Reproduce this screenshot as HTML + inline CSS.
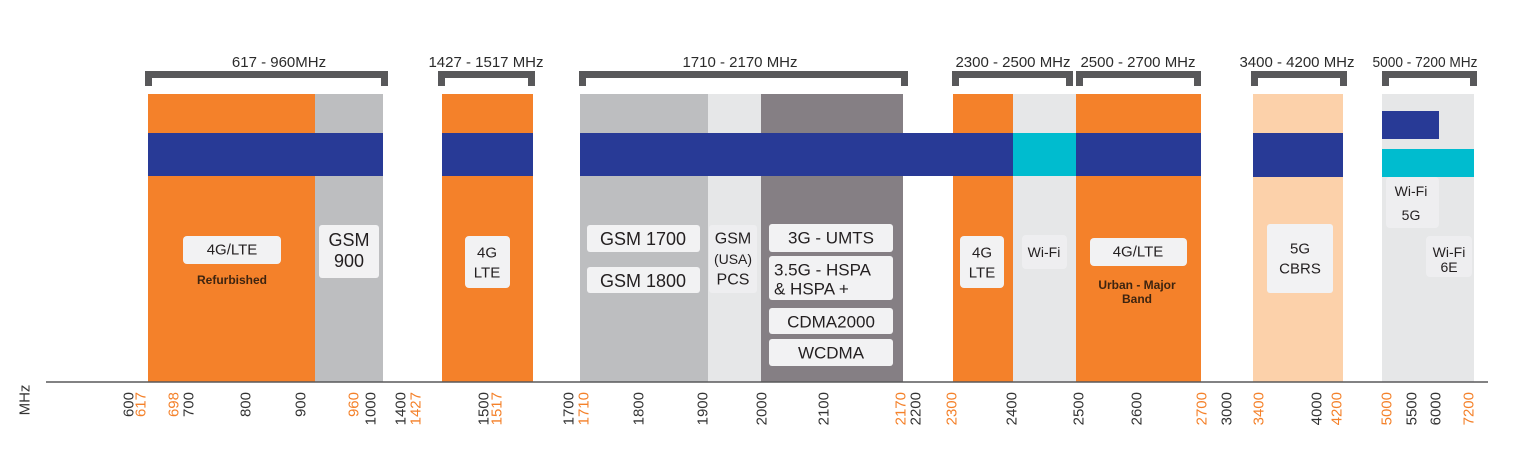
<!DOCTYPE html>
<html><head><meta charset="utf-8"><style>
html,body{margin:0;padding:0;background:#fff;}
svg{display:block;}
text{font-family:"Liberation Sans",sans-serif;}
</style></head><body>
<svg width="1536" height="466" viewBox="0 0 1536 466" xmlns="http://www.w3.org/2000/svg">
<!-- blocks -->
<g>
<rect x="148" y="94" width="167" height="288" fill="#f4812a"/>
<rect x="315" y="94" width="68" height="288" fill="#bdbec0"/>
<rect x="442" y="94" width="91" height="288" fill="#f4812a"/>
<rect x="580" y="94" width="128" height="288" fill="#bdbec0"/>
<rect x="708" y="94" width="53" height="288" fill="#e6e7e8"/>
<rect x="761" y="94" width="142" height="288" fill="#857f84"/>
<rect x="953" y="94" width="60" height="288" fill="#f4812a"/>
<rect x="1013" y="94" width="63" height="288" fill="#e6e7e8"/>
<rect x="1076" y="94" width="125" height="288" fill="#f4812a"/>
<rect x="1253" y="94" width="90" height="288" fill="#fcd1aa"/>
<rect x="1382" y="94" width="92" height="288" fill="#e6e7e8"/>
</g>
<!-- bands -->
<g>
<rect x="148" y="133" width="235" height="43" fill="#283a96"/>
<rect x="442" y="133" width="91" height="43" fill="#283a96"/>
<rect x="580" y="133" width="433" height="43" fill="#283a96"/>
<rect x="1013" y="133" width="63" height="43" fill="#00bccf"/>
<rect x="1076" y="133" width="125" height="43" fill="#283a96"/>
<rect x="1253" y="133" width="90" height="44" fill="#283a96"/>
<rect x="1382" y="111" width="57" height="28" fill="#283a96"/>
<rect x="1382" y="149" width="92" height="28" fill="#00bccf"/>
</g>
<!-- brackets -->
<g fill="#58585a">
<path d="M145 71H388V86H381V78H152V86H145Z"/>
<path d="M438 71H535V86H528V78H445V86H438Z"/>
<path d="M579 71H908V86H901V78H586V86H579Z"/>
<path d="M952 71H1073V86H1066V78H959V86H952Z"/>
<path d="M1076 71H1201V86H1194V78H1083V86H1076Z"/>
<path d="M1251 71H1347V86H1340V78H1258V86H1251Z"/>
<path d="M1382 71H1477V86H1470V78H1389V86H1382Z"/>
</g>
<g font-size="15" fill="#2b2b2b" text-anchor="middle">
<text x="279" y="67">617 - 960MHz</text>
<text x="486" y="67">1427 - 1517 MHz</text>
<text x="740" y="67">1710 - 2170 MHz</text>
<text x="1013" y="67">2300 - 2500 MHz</text>
<text x="1138" y="67">2500 - 2700 MHz</text>
<text x="1297" y="67">3400 - 4200 MHz</text>
<text x="1425" y="67" textLength="105" lengthAdjust="spacingAndGlyphs">5000 - 7200 MHz</text>
</g>
<!-- label boxes -->
<g fill="#f2f2f3">
<rect x="183" y="236" width="98" height="28" rx="4"/>
<rect x="319" y="225" width="60" height="53" rx="3"/>
<rect x="465" y="236" width="45" height="52" rx="4"/>
<rect x="587" y="225" width="113" height="27" rx="3"/>
<rect x="587" y="267" width="113" height="26" rx="3"/>
<rect x="709" y="225" width="48" height="68" rx="3" fill="#eeeef0"/>
<rect x="769" y="224" width="124" height="28" rx="3"/>
<rect x="769" y="256" width="124" height="44" rx="3"/>
<rect x="769" y="308" width="124" height="26" rx="3"/>
<rect x="769" y="339" width="124" height="27" rx="3"/>
<rect x="960" y="236" width="44" height="52" rx="4"/>
<rect x="1022" y="235" width="45" height="34" rx="4" fill="#eeeef0"/>
<rect x="1090" y="238" width="97" height="28" rx="4"/>
<rect x="1267" y="224" width="66" height="69" rx="3"/>
<rect x="1386" y="177" width="53" height="51" rx="4" fill="#eeeef0"/>
<rect x="1426" y="236" width="46" height="41" rx="4" fill="#eeeef0"/>
</g>
<g fill="#231f20" text-anchor="middle" dominant-baseline="central">
<text x="232" y="250" font-size="15">4G/LTE</text>
<text x="232" y="280" font-size="12" font-weight="bold" fill="#3d2410">Refurbished</text>
<text x="349" y="240" font-size="18">GSM</text>
<text x="349" y="261" font-size="18">900</text>
<text x="487" y="253" font-size="15">4G</text>
<text x="487" y="273" font-size="15">LTE</text>
<text x="643" y="239" font-size="18">GSM 1700</text>
<text x="643" y="281" font-size="18">GSM 1800</text>
<text x="733" y="239" font-size="16">GSM</text>
<text x="733" y="259" font-size="14">(USA)</text>
<text x="733" y="280" font-size="16">PCS</text>
<text x="831" y="238" font-size="17">3G - UMTS</text>
<text x="774" y="270" font-size="17" text-anchor="start">3.5G - HSPA</text>
<text x="774" y="289" font-size="17" text-anchor="start">&amp; HSPA +</text>
<text x="831" y="322" font-size="17">CDMA2000</text>
<text x="831" y="353" font-size="17">WCDMA</text>
<text x="982" y="253" font-size="15">4G</text>
<text x="982" y="273" font-size="15">LTE</text>
<text x="1044" y="252" font-size="14">Wi-Fi</text>
<text x="1138" y="252" font-size="15">4G/LTE</text>
<text x="1137" y="285" font-size="12" font-weight="bold" fill="#3d2410">Urban - Major</text>
<text x="1137" y="299" font-size="12" font-weight="bold" fill="#3d2410">Band</text>
<text x="1300" y="249" font-size="15">5G</text>
<text x="1300" y="269" font-size="15">CBRS</text>
<text x="1411" y="191" font-size="14">Wi-Fi</text>
<text x="1411" y="215" font-size="14">5G</text>
<text x="1449" y="252" font-size="14">Wi-Fi</text>
<text x="1449" y="267" font-size="14">6E</text>
</g>
<!-- axis -->
<line x1="46" y1="382" x2="1488" y2="382" stroke="#58585a" stroke-width="1.5"/>
<g font-size="15" text-anchor="end" dominant-baseline="central">
<text transform="translate(25,400) rotate(-90)" text-anchor="middle" fill="#333">MHz</text>
<text transform="translate(129,392) rotate(-90)" fill="#333">600</text>
<text transform="translate(141,392) rotate(-90)" fill="#f4812a">617</text>
<text transform="translate(174,392) rotate(-90)" fill="#f4812a">698</text>
<text transform="translate(189,392) rotate(-90)" fill="#333">700</text>
<text transform="translate(246,392) rotate(-90)" fill="#333">800</text>
<text transform="translate(301,392) rotate(-90)" fill="#333">900</text>
<text transform="translate(354,392) rotate(-90)" fill="#f4812a">960</text>
<text transform="translate(371,392) rotate(-90)" fill="#333">1000</text>
<text transform="translate(401,392) rotate(-90)" fill="#333">1400</text>
<text transform="translate(416,392) rotate(-90)" fill="#f4812a">1427</text>
<text transform="translate(484,392) rotate(-90)" fill="#333">1500</text>
<text transform="translate(497,392) rotate(-90)" fill="#f4812a">1517</text>
<text transform="translate(569,392) rotate(-90)" fill="#333">1700</text>
<text transform="translate(584,392) rotate(-90)" fill="#f4812a">1710</text>
<text transform="translate(639,392) rotate(-90)" fill="#333">1800</text>
<text transform="translate(703,392) rotate(-90)" fill="#333">1900</text>
<text transform="translate(762,392) rotate(-90)" fill="#333">2000</text>
<text transform="translate(824,392) rotate(-90)" fill="#333">2100</text>
<text transform="translate(901,392) rotate(-90)" fill="#f4812a">2170</text>
<text transform="translate(916,392) rotate(-90)" fill="#333">2200</text>
<text transform="translate(952,392) rotate(-90)" fill="#f4812a">2300</text>
<text transform="translate(1012,392) rotate(-90)" fill="#333">2400</text>
<text transform="translate(1079,392) rotate(-90)" fill="#333">2500</text>
<text transform="translate(1137,392) rotate(-90)" fill="#333">2600</text>
<text transform="translate(1202,392) rotate(-90)" fill="#f4812a">2700</text>
<text transform="translate(1227,392) rotate(-90)" fill="#333">3000</text>
<text transform="translate(1259,392) rotate(-90)" fill="#f4812a">3400</text>
<text transform="translate(1317,392) rotate(-90)" fill="#333">4000</text>
<text transform="translate(1337,392) rotate(-90)" fill="#f4812a">4200</text>
<text transform="translate(1387,392) rotate(-90)" fill="#f4812a">5000</text>
<text transform="translate(1412,392) rotate(-90)" fill="#333">5500</text>
<text transform="translate(1436,392) rotate(-90)" fill="#333">6000</text>
<text transform="translate(1469,392) rotate(-90)" fill="#f4812a">7200</text>
</g>
</svg>
</body></html>
